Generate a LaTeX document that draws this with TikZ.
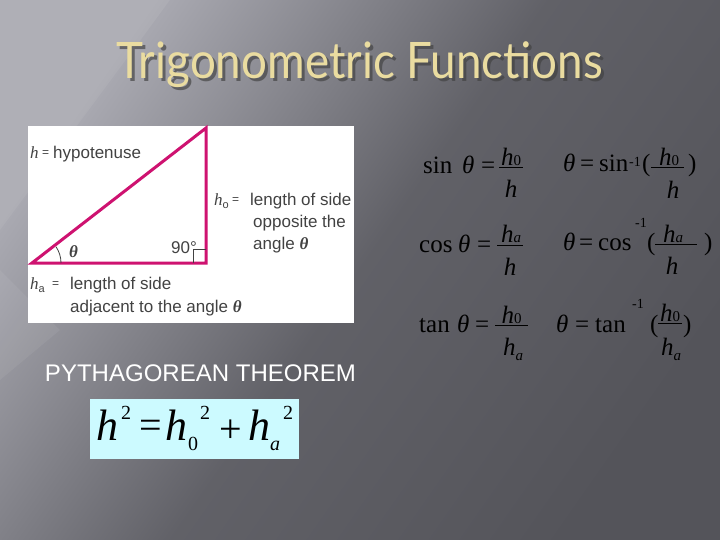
\documentclass[tikz,border=0pt]{standalone}
\usepackage{fontspec}
\setmainfont{Liberation Serif}
\newfontfamily\arialf{Liberation Sans}
\newfontfamily\titlef{Lato}
\usepackage{graphicx}
\definecolor{titlecol}{RGB}{234,220,160}
\definecolor{magentaline}{RGB}{206,18,112}
\definecolor{labelgray}{RGB}{66,66,66}
\definecolor{cyanbox}{RGB}{204,250,255}
\definecolor{bglight}{RGB}{170,170,178}
\definecolor{bgdark}{RGB}{84,84,90}
\newcommand{\hz}{\textit{h}{\fontsize{15}{15}\selectfont 0}}
\newcommand{\hai}{\textit{h}{\fontsize{15}{15}\selectfont\itshape a}}
\newcommand{\hal}{\textit{h}\raisebox{-5pt}{\fontsize{15}{15}\selectfont\itshape a}}
\newcommand{\bth}{{\rmfamily\bfseries\itshape θ}}
\begin{document}
\begin{tikzpicture}[x=1pt,y=-1pt,
  lbl/.style={font=\arialf\fontsize{17}{19}\selectfont, text=labelgray, inner sep=0pt, anchor=base west},
  lbleq/.style={font=\arialf\fontsize{12}{14}\selectfont, text=labelgray, inner sep=0pt, anchor=base west},
  eqr/.style={font=\fontsize{25}{30}\selectfont, text=black, inner sep=0pt, anchor=base west},
  eqi/.style={font=\fontsize{25}{30}\selectfont\itshape, text=black, inner sep=0pt, anchor=base west},
  eqc/.style={font=\fontsize{25}{30}\selectfont, text=black, inner sep=0pt, anchor=base},
  supr/.style={font=\fontsize{14}{17}\selectfont, text=black, inner sep=0pt, anchor=base west},
  fbar/.style={black, line width=1pt},
  pyi/.style={font=\fontsize{44}{50}\selectfont\itshape, text=black, inner sep=0pt, anchor=base west},
  pys/.style={font=\fontsize{20}{24}\selectfont, text=black, inner sep=0pt, anchor=base west},
  pyo/.style={font=\fontsize{40}{48}\selectfont, text=black, inner sep=0pt}]
\useasboundingbox (0,0) rectangle (720,540);
% background
\shade[top color=bglight, bottom color=bgdark, middle color=bgdark!85!bglight, shading angle=55]
  (0,0) rectangle (720,540);
\fill[white, opacity=0.06] (0,0) -- (170,0) -- (0,230) -- cycle;
\fill[white, opacity=0.06] (0,270) -- (60,330) -- (0,380) -- cycle;
% title
\node[font=\titlef, text=black!75, opacity=0.65, inner sep=0pt] (titleshadow) at (363,68) {\resizebox*{486pt}{46pt}{Trigonometric Functions}};
\node[font=\titlef, text=titlecol, inner sep=0pt] (title) at (360,65) {\resizebox*{486pt}{46pt}{Trigonometric Functions}};
% white picture box
\node[fill=white, minimum width=326pt, minimum height=197pt, inner sep=0pt, anchor=north west] (box) at (28,126) {};
\coordinate (A) at (32,263);
\coordinate (B) at (206,263);
\coordinate (C) at (206,128);
\draw[magentaline, line width=3pt, line join=miter] (A) -- (B) -- (C) -- cycle;
\draw[labelgray, line width=0.8pt] (193,263) -- (193,249) -- (206,249);
\draw[labelgray, line width=0.8pt] ([shift={(0:29)}]A) arc[start angle=0, end angle=-34, radius=29];
\node[lbl] (hsym) at (30,159) {\rmfamily\itshape h};
\node[lbleq] (heq) at (42,157) {=};
\node[lbl] (hyp) at (53,159) {hypotenuse};
\node[lbl] (hosym) at (214,206) {{\rmfamily\itshape h}{\fontsize{11}{11}\selectfont\raisebox{-3pt}{o}}};
\node[lbleq] (hoeq) at (232,204) {=};
\node[lbl] (ho) at (250,206) {length of side};
\node[lbl] (opp) at (253,228) {opposite the};
\node[lbl] (ang) at (253,249) {angle \bth};
\node[lbl] (ninety) at (171,253) {90°};
\node[lbl] (th) at (69,257) {\bth};
\node[lbl] (hasym) at (30,289) {{\rmfamily\itshape h}{\fontsize{11}{11}\selectfont\raisebox{-3pt}{a}}};
\node[lbleq] (haeq) at (52,287) {=};
\node[lbl] (ha) at (70,289) {length of side};
\node[lbl] (adj) at (70,312) {adjacent to the angle \bth};
% ---- left column equations
% sin
\node[eqr] (sinop) at (423,174) {sin};
\node[eqi] (sinth) at (462,174) {θ};
\node[eqr] (sineq) at (481,174) {=};
\coordinate (sb1) at (499,168); \coordinate (sb2) at (523,168);
\draw[fbar] (sb1) -- (sb2);
\node[eqc] (sinnum) at (511,166) {\hz};
\node[eqc] (sinden) at (511,197) {\textit{h}};
% cos
\node[eqr] (cosop) at (419,252) {cos};
\node[eqi] (costh) at (458,252) {θ};
\node[eqr] (coseq) at (477,252) {=};
\coordinate (cb1) at (497,245); \coordinate (cb2) at (523,245);
\draw[fbar] (cb1) -- (cb2);
\node[eqc] (cosnum) at (511,243) {\hai};
\node[eqc] (cosden) at (510,275) {\textit{h}};
% tan
\node[eqr] (tanop) at (419,332) {tan};
\node[eqi] (tanth) at (457,332) {θ};
\node[eqr] (taneq) at (475,332) {=};
\coordinate (tb1) at (495,325); \coordinate (tb2) at (528,325);
\draw[fbar] (tb1) -- (tb2);
\node[eqc] (tannum) at (511.5,323) {\hz};
\node[eqc] (tanden) at (513,355) {\hal};
% ---- right column equations
% asin
\node[eqi] (asth) at (563,172) {θ};
\node[eqr] (aseq) at (580,172) {=};
\node[eqr] (asop) at (599,172) {sin};
\node[supr] (assup) at (629,167) {-1};
\node[eqr] (aslp) at (642,172) {(};
\coordinate (asb1) at (651,168); \coordinate (asb2) at (684,168);
\draw[fbar] (asb1) -- (asb2);
\node[eqc] (asnum) at (669,166) {\hz};
\node[eqc] (asden) at (673,199) {\textit{h}};
\node[eqr] (asrp) at (688,172) {)};
% acos
\node[eqi] (acth) at (563,250) {θ};
\node[eqr] (aceq) at (579,250) {=};
\node[eqr] (acop) at (598,250) {cos};
\node[supr] (acsup) at (635,227) {-1};
\node[eqr] (aclp) at (647,250) {(};
\coordinate (acb1) at (655,244); \coordinate (acb2) at (697,244);
\draw[fbar] (acb1) -- (acb2);
\node[eqc] (acnum) at (673,242) {\hai};
\node[eqc] (acden) at (672,274) {\textit{h}};
\node[eqr] (acrp) at (704,250) {)};
% atan
\node[eqi] (atth) at (556,332) {θ};
\node[eqr] (ateq) at (575,332) {=};
\node[eqr] (atop) at (595,332) {tan};
\node[supr] (atsup) at (632,308) {-1};
\node[eqr] (atlp) at (650,332) {(};
\coordinate (atb1) at (658,323); \coordinate (atb2) at (682,323);
\draw[fbar] (atb1) -- (atb2);
\node[eqc] (atnum) at (670,321) {\hz};
\node[eqc] (atden) at (671,355) {\hal};
\node[eqr] (atrp) at (683,332) {)};
% pythagorean
\node[font=\arialf, text=white, inner sep=0pt] (pyth) at (200.5,373) {\resizebox{311pt}{!}{PYTHAGOREAN THEOREM}};
\node[fill=cyanbox, minimum width=209pt, minimum height=60pt, inner sep=0pt, anchor=north west] (cbox) at (90,399) {};
\node[pyi] (p1) at (96,440) {h};
\node[pys] (p2) at (121,419) {2};
\node[pyo] (p3) at (150.5,429.5) {=};
\node[pyi] (p4) at (165,440) {h};
\node[pys] (p5) at (188,450) {0};
\node[pys] (p6) at (200,419) {2};
\node[pyo] (p7) at (230.5,431) {+};
\node[pyi] (p8) at (248,440) {h};
\node[pys] (p9) at (270,450) {\itshape a};
\node[pys] (p10) at (283,419) {2};
\end{tikzpicture}
\end{document}
